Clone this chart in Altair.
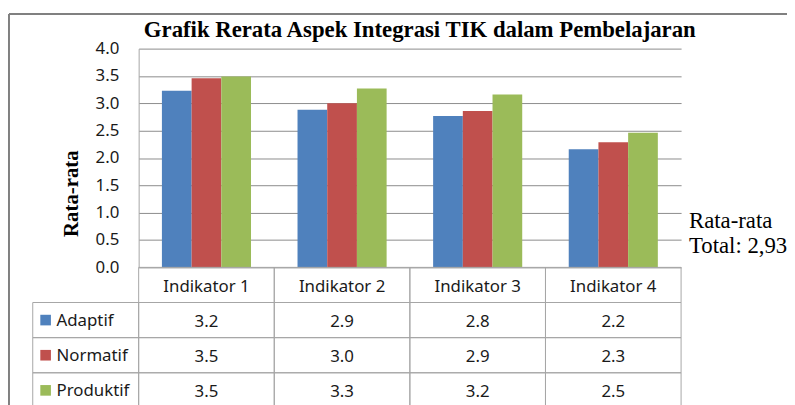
import altair as alt
import pandas as pd

# ---- data ----
categories = ["Indikator 1", "Indikator 2", "Indikator 3", "Indikator 4"]
series = ["Adaptif", "Normatif", "Produktif"]
adaptif = [3.23, 2.88, 2.77, 2.16]
normatif = [3.46, 3.00, 2.86, 2.29]
produktif = [3.49, 3.27, 3.16, 2.46]
colors = ["#4F81BD", "#C0504D", "#9BBB59"]
y_ticks = [0.0, 0.5, 1.0, 1.5, 2.0, 2.5, 3.0, 3.5, 4.0]
title_text = ["Grafik Rerata Aspek Integrasi TIK dalam Pembelajaran"]
note_text = ["Rata-rata", "Total: 2,93"]
y_title = "Rata-rata"
header_key = "Indikator"

values = {"Adaptif": adaptif, "Normatif": normatif, "Produktif": produktif}

bars = pd.DataFrame(
    [{"cat": c, "series": s, "value": values[s][i]}
     for s in series for i, c in enumerate(categories)]
)

rows = [header_key] + series
cells = []
for i, c in enumerate(categories):
    cells.append({"cat": c, "row": header_key, "label": c})
    for s in series:
        cells.append({"cat": c, "row": s, "label": f"{values[s][i]:.1f}"})
cells = pd.DataFrame(cells)
row_df = pd.DataFrame({"row": series})

W, H = 548, 221
SANS = "Noto Sans"
SERIF = "Liberation Serif"
GRID = "#a6a6a6"
TXT = "#1a1a1a"

xscale = alt.Scale(domain=categories, paddingInner=0, paddingOuter=0)
rowscale = alt.Scale(domain=rows, range=[H, H + 142], paddingInner=0, paddingOuter=0)
cscale = alt.Scale(domain=series, range=colors)

bar_layer = alt.Chart(bars).mark_bar().encode(
    x=alt.X("cat:N", scale=xscale, axis=None, sort=categories),
    xOffset=alt.XOffset("series:N", sort=series,
                        scale=alt.Scale(paddingInner=0, paddingOuter=0.783)),
    y=alt.Y("value:Q", scale=alt.Scale(domain=[0, 4], nice=False),
            axis=alt.Axis(values=y_ticks, format=".1f", ticks=False, tickSize=0,
                          labelPadding=20, labelFont=SANS, labelFontSize=17,
                          labelColor=TXT, gridColor="#8c8c8c", domainColor=GRID,
                          title=y_title, titleFont=SERIF, titleFontSize=21,
                          titleFontWeight="bold", titleColor="black",
                          titleX=-68, titleY=146, titleAngle=270,
                          titleAlign="center", titleBaseline="middle")),
    color=alt.Color("series:N", scale=cscale, legend=None),
)

cell_rect = alt.Chart(cells).mark_rect(filled=False, color=GRID, strokeWidth=1).encode(
    x=alt.X("cat:N", scale=xscale, axis=None, sort=categories),
    y=alt.Y("row:N", scale=rowscale, axis=None, sort=rows),
)

cell_text = alt.Chart(cells).mark_text(font=SANS, fontSize=17, color=TXT, dy=2).encode(
    x=alt.X("cat:N", scale=xscale, axis=None, sort=categories),
    y=alt.Y("row:N", scale=rowscale, axis=None, sort=rows),
    text="label:N",
)

label_rect = alt.Chart(row_df).mark_rect(filled=False, color=GRID, strokeWidth=1).encode(
    x=alt.value(-107), x2=alt.value(0),
    y=alt.Y("row:N", scale=rowscale, axis=None, sort=rows),
)

label_sq = alt.Chart(row_df).mark_square(size=115, opacity=1).encode(
    x=alt.value(-94),
    y=alt.Y("row:N", scale=rowscale, axis=None, sort=rows),
    color=alt.Color("row:N", scale=cscale, legend=None),
)

label_text = alt.Chart(row_df).mark_text(font=SANS, fontSize=17, color=TXT,
                                         align="left", dy=1).encode(
    x=alt.value(-83),
    y=alt.Y("row:N", scale=rowscale, axis=None, sort=rows),
    text="row:N",
)

title_layer = alt.Chart(pd.DataFrame({"t": title_text})).mark_text(
    font=SERIF, fontSize=23, fontWeight="bold", color="black",
    align="center", baseline="alphabetic").encode(
    x=alt.value(284), y=alt.value(-12), text="t:N")

note_layer = alt.Chart(pd.DataFrame({"t": ["\n".join(note_text)]})).mark_text(
    font=SERIF, fontSize=23, color="black", align="left", baseline="alphabetic",
    lineBreak="\n", lineHeight=25).encode(
    x=alt.value(556), y=alt.value(181), text="t:N")

frame_top = alt.Chart(pd.DataFrame({"a": [0]})).mark_rule(color="#808080", strokeWidth=2).encode(
    x=alt.value(-131), x2=alt.value(660), y=alt.value(-35))
frame_left = alt.Chart(pd.DataFrame({"a": [0]})).mark_rule(color="#808080", strokeWidth=2).encode(
    x=alt.value(-131), y=alt.value(-35), y2=alt.value(400))

chart = alt.layer(
    bar_layer, cell_rect, cell_text, label_rect, label_sq, label_text,
    title_layer, note_layer, frame_top, frame_left,
).resolve_scale(y="independent").properties(
    width=W, height=H,
    padding={"left": 132, "top": 39, "right": 107, "bottom": 137},
    autosize=alt.AutoSizeParams(type="none"),
    background="white",
).configure_view(strokeWidth=0)

chart.save("out.html", embed_options={"renderer": "svg", "actions": False})
